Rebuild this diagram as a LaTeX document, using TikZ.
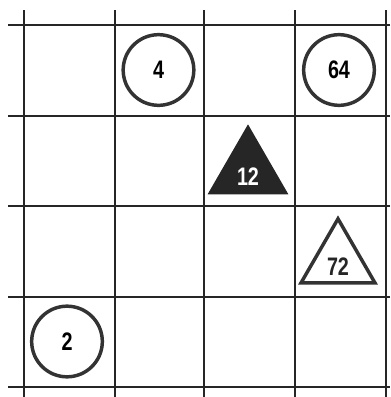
\documentclass[tikz,border=0pt]{standalone}
\usepackage{fontspec}
\setmainfont{Liberation Sans}[FakeStretch=0.78]
\usetikzlibrary{shapes.geometric}

\begin{document}
\begin{tikzpicture}[
x=0.75pt, y=-0.75pt,
gridline/.style={draw=black!85, line width=1pt},
numtext/.style={font=\fontsize{19}{19}\selectfont\bfseries},
ring/.style={circle, draw=black!80, line width=2.6pt, minimum size=53pt, inner sep=0pt, numtext},
darktri/.style={regular polygon, regular polygon sides=3, fill=black!85, draw=black!85, line width=1pt, minimum size=68pt, inner sep=0pt},
opentri/.style={regular polygon, regular polygon sides=3, draw=black!80, line width=2.6pt, minimum size=64pt, inner sep=0pt}
]
\useasboundingbox (0,0) rectangle (390,397);

% grid
\foreach \gx in {24,115,204,295,386}
  \draw[gridline] (\gx,10) -- (\gx,397);
\foreach \gy in {25,116,206,297,387}
  \draw[gridline] (8,\gy) -- (390,\gy);

% circles
\node[ring] (c4) at (158.5,70) {4};
\node[ring] (c64) at (339,70) {64};
\node[ring] (c2) at (67,341.5) {2};

% triangles
\node[darktri] (t12) at (248,171) {};
\node[numtext, text=white] (n12) at (248,177) {12};
\node[opentri] (t72) at (338,261.5) {};
\node[numtext, text=black!85] (n72) at (338,267) {72};
\end{tikzpicture}
\end{document}
